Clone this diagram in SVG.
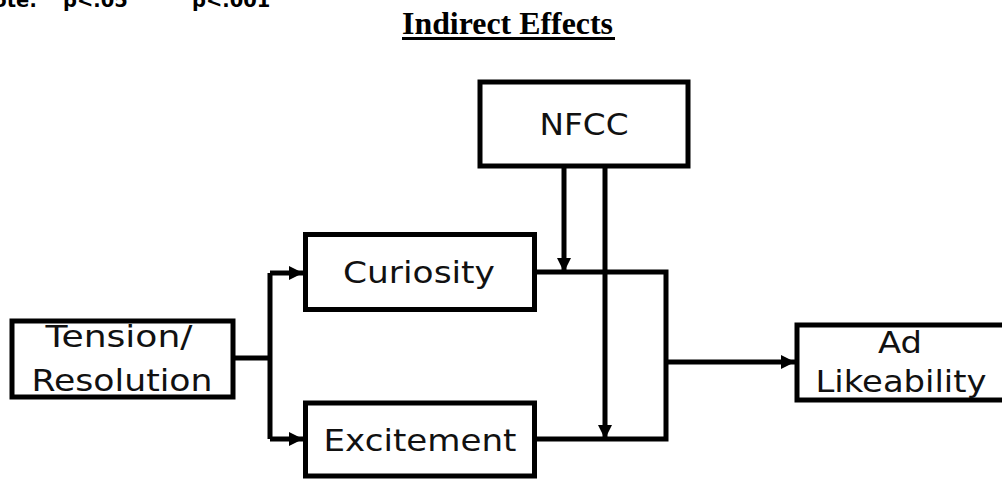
<svg xmlns="http://www.w3.org/2000/svg" width="1002" height="480" viewBox="0 0 1002 480">
  <style>
    .box { fill: #fff; stroke: #000; stroke-width: 5; }
    .lbl { font-family: "DejaVu Sans", "Liberation Sans", sans-serif; font-size: 31px; fill: #111; text-anchor: middle; }
    .note { font-family: "DejaVu Sans", sans-serif; font-weight: bold; font-size: 19.5px; fill: #000; }
    .title { font-family: "Liberation Serif", serif; font-weight: bold; font-size: 32px; fill: #000; }
    .wire { fill: none; stroke: #000; stroke-width: 5; }
  </style>
  <defs>
    <marker id="arrow" viewBox="0 0 10 10" refX="10" refY="5" markerWidth="15" markerHeight="14" markerUnits="userSpaceOnUse" orient="auto">
      <path d="M0,0 L10,5 L0,10 Z" fill="#000"/>
    </marker>
  </defs>
  <rect width="1002" height="480" fill="#fff"/>

  <!-- significance note along the top edge -->
  <g id="note">
    <text class="note" x="-23" y="7">Note:</text>
    <text class="note" x="63" y="7">p&lt;.05</text>
    <text class="note" x="192" y="7">p&lt;.001</text>
  </g>

  <!-- heading -->
  <g id="title">
    <text class="title" x="402" y="34" textLength="211" lengthAdjust="spacingAndGlyphs">Indirect Effects</text>
    <rect x="402" y="37" width="213" height="3" fill="#000"/>
  </g>

  <!-- connectors -->
  <g id="connectors">
    <!-- Tension/Resolution splits to both mediators -->
    <path class="wire" d="M235,358 H270"/>
    <path class="wire" d="M270,273 V439"/>
    <path class="wire" d="M270,273 H303" marker-end="url(#arrow)"/>
    <path class="wire" d="M270,439 H303" marker-end="url(#arrow)"/>
    <!-- mediators join toward Ad Likeability -->
    <path class="wire" d="M537,272 H666 V439 H537"/>
    <path class="wire" d="M666,362 H795" marker-end="url(#arrow)"/>
    <!-- NFCC moderates both paths -->
    <path class="wire" d="M564,168 V272" marker-end="url(#arrow)"/>
    <path class="wire" d="M605,168 V439" marker-end="url(#arrow)"/>
  </g>

  <g id="tension">
    <rect class="box" x="12" y="321" width="221" height="76"/>
    <text class="lbl" x="119" y="347" textLength="147" lengthAdjust="spacingAndGlyphs">Tension/</text>
    <text class="lbl" x="122" y="391" textLength="181" lengthAdjust="spacingAndGlyphs">Resolution</text>
  </g>

  <g id="curiosity">
    <rect class="box" x="305.5" y="234.5" width="229" height="75"/>
    <text class="lbl" x="419" y="283" textLength="152" lengthAdjust="spacingAndGlyphs">Curiosity</text>
  </g>

  <g id="excitement">
    <rect class="box" x="305.5" y="403" width="229" height="73"/>
    <text class="lbl" x="420" y="451" textLength="193" lengthAdjust="spacingAndGlyphs">Excitement</text>
  </g>

  <g id="nfcc">
    <rect class="box" x="480" y="82" width="208" height="84"/>
    <text class="lbl" x="584" y="135" textLength="89" lengthAdjust="spacingAndGlyphs">NFCC</text>
  </g>

  <g id="likeability">
    <rect class="box" x="797" y="325" width="215" height="75"/>
    <text class="lbl" x="900" y="353" textLength="44" lengthAdjust="spacingAndGlyphs">Ad</text>
    <text class="lbl" x="901" y="392" textLength="171" lengthAdjust="spacingAndGlyphs">Likeability</text>
  </g>
</svg>
